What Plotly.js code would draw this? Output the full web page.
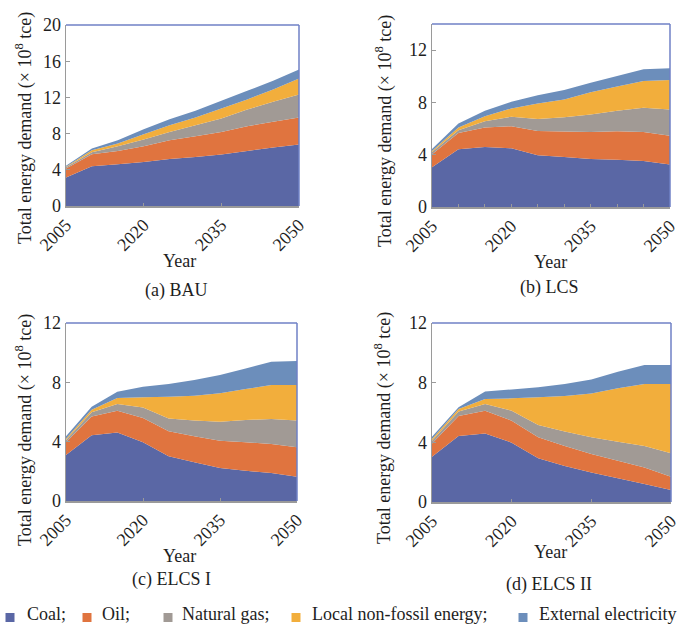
<!DOCTYPE html>
<html>
<head>
<meta charset="utf-8">
<script src="https://cdn.plot.ly/plotly-3.0.1.min.js"></script>
<style>
html,body{margin:0;padding:0;background:#fff;}
#chart{width:681px;height:627px;}
</style>
</head>
<body>
<div id="chart"></div>
<script>
// ---------------- data (×10^8 tce) ----------------
const years = [2005, 2010, 2015, 2020, 2025, 2030, 2035, 2040, 2045, 2050];
const xTickVals = [2005, 2020, 2035, 2050];
const seriesNames = ["Coal", "Oil", "Natural gas", "Local non-fossil energy", "External electricity"];
const legendLabels = ["Coal;", "Oil;", "Natural gas;", "Local non-fossil energy;", "External electricity"];
const panelTitles = ["(a) BAU", "(b) LCS", "(c) ELCS I", "(d) ELCS II"];

// (a) BAU
const coalBAU  = [3.14, 4.39, 4.61, 4.87, 5.20, 5.42, 5.68, 6.09, 6.46, 6.79];
const oilBAU   = [0.99, 1.33, 1.48, 1.73, 2.07, 2.29, 2.51, 2.73, 2.84, 2.99];
const gasBAU   = [0.15, 0.22, 0.51, 0.74, 0.92, 1.22, 1.48, 1.84, 2.21, 2.54];
const localBAU = [0.07, 0.22, 0.30, 0.59, 0.74, 0.85, 1.10, 1.11, 1.37, 1.78];
const extBAU   = [0.11, 0.19, 0.37, 0.56, 0.66, 0.74, 0.85, 0.96, 0.96, 0.99];

// (b) LCS
const coalLCS  = [3.05, 4.41, 4.59, 4.49, 3.95, 3.82, 3.67, 3.62, 3.51, 3.26];
const oilLCS   = [0.98, 1.26, 1.49, 1.69, 1.87, 1.95, 2.07, 2.17, 2.23, 2.20];
const gasLCS   = [0.17, 0.20, 0.48, 0.72, 0.92, 1.10, 1.34, 1.57, 1.85, 2.00];
const localLCS = [0.08, 0.21, 0.39, 0.64, 1.18, 1.36, 1.69, 1.85, 2.05, 2.26];
const extLCS   = [0.16, 0.30, 0.41, 0.51, 0.62, 0.72, 0.74, 0.82, 0.90, 0.90];

// (c) ELCS I
const coalELCS1  = [3.10, 4.43, 4.61, 3.96, 3.01, 2.61, 2.22, 2.04, 1.89, 1.64];
const oilELCS1   = [0.86, 1.26, 1.48, 1.64, 1.69, 1.75, 1.85, 1.92, 1.95, 1.98];
const gasELCS1   = [0.15, 0.29, 0.45, 0.71, 0.87, 1.06, 1.28, 1.50, 1.69, 1.80];
const localELCS1 = [0.09, 0.18, 0.40, 0.68, 1.46, 1.68, 1.91, 2.09, 2.29, 2.40];
const extELCS1   = [0.16, 0.20, 0.43, 0.72, 0.86, 1.06, 1.23, 1.39, 1.57, 1.62];

// (d) ELCS II
const coalELCS2  = [3.04, 4.42, 4.60, 3.98, 2.93, 2.41, 1.97, 1.59, 1.21, 0.80];
const oilELCS2   = [0.89, 1.35, 1.52, 1.47, 1.41, 1.34, 1.25, 1.18, 1.11, 0.90];
const gasELCS2   = [0.18, 0.29, 0.45, 0.67, 0.82, 0.97, 1.12, 1.27, 1.43, 1.56];
const localELCS2 = [0.11, 0.17, 0.33, 0.83, 1.86, 2.39, 2.94, 3.58, 4.16, 4.65];
const extELCS2   = [0.16, 0.12, 0.50, 0.60, 0.67, 0.80, 0.94, 1.12, 1.27, 1.27];

const yMax = [20, 14, 12, 12];

// ---------------- styling ----------------
const W = 681, H = 627;
const colors = ["#5A67A5", "#E0743F", "#A19A95", "#F2AE3C", "#6C8EBB"];
const FONT = "Liberation Serif, Times New Roman, serif";
const TXT = "#1e1e1e";
const AXC = "#9a9a9a";
const FRAME = "#6f80c6";

const panels = [
  [coalBAU, oilBAU, gasBAU, localBAU, extBAU],
  [coalLCS, oilLCS, gasLCS, localLCS, extLCS],
  [coalELCS1, oilELCS1, gasELCS1, localELCS1, extELCS1],
  [coalELCS2, oilELCS2, gasELCS2, localELCS2, extELCS2]
];

// plot-area pixel boxes [left, right, top, bottom]
const boxes = [
  [66, 299, 25, 206],
  [432, 670, 24, 207],
  [66, 297, 323, 501],
  [432, 671, 323, 502]
];
const px = v => v / W;
const py = v => 1 - v / H;

const traces = [];
panels.forEach((p, i) => {
  const ax = i === 0 ? "" : String(i + 1);
  p.forEach((vals, k) => {
    traces.push({
      type: "scatter",
      x: years, y: vals,
      xaxis: "x" + ax, yaxis: "y" + ax,
      stackgroup: "s" + i,
      mode: "none",
      fill: "tonexty",
      fillcolor: colors[k],
      name: seriesNames[k],
      showlegend: false,
      hoverinfo: "x+y+name"
    });
  });
});

const layout = {
  width: W, height: H,
  margin: {l: 0, r: 0, t: 0, b: 0},
  paper_bgcolor: "#fff",
  plot_bgcolor: "#fff",
  showlegend: false,
  font: {family: FONT, size: 18, color: TXT},
  annotations: [],
  shapes: []
};

const yTitlePos = [[24, 128], [384, 131], [24, 430], [383, 428]];
const yearPos = [[179, 261], [550, 262], [179, 556], [550, 552]];
const subPos = [[176, 290], [549, 288], [171, 579], [549, 584]];

boxes.forEach((b, i) => {
  const ax = i === 0 ? "" : String(i + 1);
  const xa = {
    domain: [px(b[0]), px(b[1])],
    anchor: "y" + ax,
    range: [2005, 2050],
    tickvals: xTickVals,
    tickangle: -45,
    ticks: "inside", ticklen: 3, tickcolor: AXC, tickwidth: 1,
    showline: true, linecolor: AXC, linewidth: 1.5,
    showgrid: false, zeroline: false,
    tickfont: {family: FONT, size: 18, color: TXT},
    fixedrange: true
  };
  if (i === 1) {
    xa.minor = {dtick: 5, tick0: 2005, ticks: "inside", ticklen: 3, tickcolor: AXC, showgrid: false};
  }
  const ya = {
    domain: [py(b[3]), py(b[2])],
    anchor: "x" + ax,
    range: [0, yMax[i]],
    dtick: 4, tick0: 0,
    ticks: "inside", ticklen: 4, tickcolor: AXC,
    showline: true, linecolor: AXC, linewidth: 1.5,
    showgrid: false, zeroline: false,
    tickfont: {family: FONT, size: 18, color: TXT},
    fixedrange: true
  };
  layout["xaxis" + ax] = xa;
  layout["yaxis" + ax] = ya;

  // blue frame on top and right
  layout.shapes.push({type: "line", xref: "x" + ax + " domain", yref: "y" + ax + " domain",
    x0: 0, x1: 1, y0: 1, y1: 1, line: {color: FRAME, width: 1.5}, layer: "above"});
  layout.shapes.push({type: "line", xref: "x" + ax + " domain", yref: "y" + ax + " domain",
    x0: 1, x1: 1, y0: 0, y1: 1, line: {color: FRAME, width: 1.5}, layer: "above"});

  layout.annotations.push({
    text: "Total energy demand (× 10<sup>8</sup> tce)", textangle: -90,
    xref: "paper", yref: "paper", x: px(yTitlePos[i][0]), y: py(yTitlePos[i][1]),
    xanchor: "center", yanchor: "middle", showarrow: false,
    font: {family: FONT, size: 18, color: TXT}
  });
  layout.annotations.push({
    text: "Year", xref: "paper", yref: "paper",
    x: px(yearPos[i][0]), y: py(yearPos[i][1]),
    xanchor: "center", yanchor: "middle", showarrow: false,
    font: {family: FONT, size: 18, color: TXT}
  });
  layout.annotations.push({
    text: panelTitles[i], xref: "paper", yref: "paper",
    x: px(subPos[i][0]), y: py(subPos[i][1]),
    xanchor: "center", yanchor: "middle", showarrow: false,
    font: {family: FONT, size: 18, color: TXT}
  });
});

// legend row: colored squares + labels
const legSquareX = [10, 87, 168, 296, 523];
const legTextX = [25, 100, 180, 310, 537];
const legSquareY = 617.5;
const legTextY = 614;
legendLabels.forEach((lab, k) => {
  layout.shapes.push({type: "rect", xref: "paper", yref: "paper",
    x0: px(legSquareX[k] - 4.5), x1: px(legSquareX[k] + 4.5),
    y0: py(legSquareY + 4.5), y1: py(legSquareY - 4.5),
    fillcolor: colors[k], line: {width: 0}});
  layout.annotations.push({
    text: lab, xref: "paper", yref: "paper",
    x: px(legTextX[k]), y: py(legTextY), xanchor: "left", yanchor: "middle",
    showarrow: false, font: {family: FONT, size: 18, color: TXT}
  });
});

Plotly.newPlot("chart", traces, layout, {displayModeBar: false, staticPlot: true});
</script>
</body>
</html>
